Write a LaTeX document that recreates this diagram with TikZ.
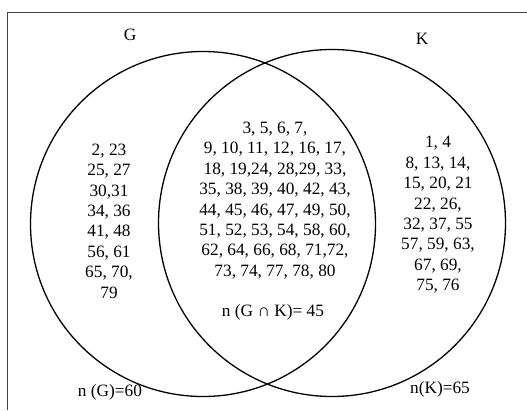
\documentclass[tikz,border=0pt]{standalone}
\usepackage{fontspec}
\setmainfont{Liberation Serif}
\begin{document}
\begin{tikzpicture}[x=1pt,y=-1pt,
  setcircle/.style={draw=black,line width=1.3pt},
  numbers/.style={align=center,inner sep=0pt,font=\fontsize{17.3}{20.4}\selectfont},
  lbl/.style={inner sep=0pt,font=\fontsize{17.3}{20.4}\selectfont}]
\useasboundingbox (0,0) rectangle (527,410);
% outer frame (open at right and bottom)
\draw[draw=black!75,line width=0.8pt] (7.5,410) -- (7.5,12.5) -- (527,12.5);
% the two sets
\node[setcircle,circle,minimum size=345pt,inner sep=0pt] (G) at (203,224) {};
\node[setcircle,circle,minimum size=347pt,inner sep=0pt] (K) at (332,223) {};
% set names
\node[lbl] (gname) at (130,35) {G};
\node[lbl] (kname) at (422,39) {K};
% elements only in G
\node[numbers] (onlyG) at (109,221) {2, 23\\25, 27\\30,31\\34, 36\\41, 48\\56, 61\\65, 70,\\79};
% elements in both
\node[numbers] (both) at (275,200.5) {3, 5, 6, 7,\\9, 10, 11, 12, 16, 17,\\18, 19,24, 28,29, 33,\\35, 38, 39, 40, 42, 43,\\44, 45, 46, 47, 49, 50,\\51, 52, 53, 54, 58, 60,\\62, 64, 66, 68, 71,72,\\73, 74, 77, 78, 80};
\node[lbl] (nboth) at (273,312) {n (G ∩ K)= 45};
% elements only in K
\node[numbers] (onlyK) at (438,215) {1, 4\\8, 13, 14,\\15, 20, 21\\22, 26,\\32, 37, 55\\57, 59, 63,\\67, 69,\\75, 76};
% totals
\node[lbl] (nG) at (110,392) {n (G)=60};
\node[lbl] (nK) at (440,389) {n(K)=65};
\end{tikzpicture}
\end{document}
